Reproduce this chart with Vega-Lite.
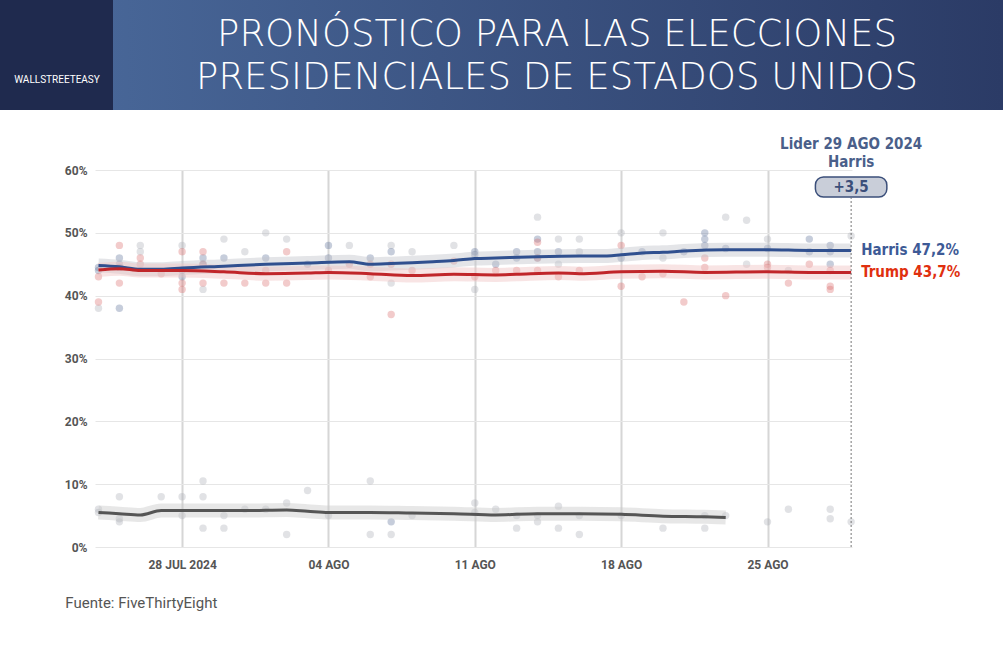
{
  "$schema": "https://vega.github.io/schema/vega-lite/v6.json",
  "background": "white",
  "padding": 0,
  "spacing": 26,
  "center": false,
  "config": {"view": {"stroke": null}, "font": "Roboto"},
  "datasets": {
    "lines": [
      {"d": "2024-07-24T00:00:00", "s": "Harris", "v": 44.8}, {"d": "2024-07-25T00:00:00", "s": "Harris", "v": 44.6},
      {"d": "2024-07-26T00:00:00", "s": "Harris", "v": 44.2}, {"d": "2024-07-27T00:00:00", "s": "Harris", "v": 44.2},
      {"d": "2024-07-28T00:00:00", "s": "Harris", "v": 44.4}, {"d": "2024-07-30T00:00:00", "s": "Harris", "v": 44.7},
      {"d": "2024-08-01T00:00:00", "s": "Harris", "v": 45.0}, {"d": "2024-08-03T00:00:00", "s": "Harris", "v": 45.2},
      {"d": "2024-08-05T00:00:00", "s": "Harris", "v": 45.4}, {"d": "2024-08-06T00:00:00", "s": "Harris", "v": 45.0},
      {"d": "2024-08-07T00:00:00", "s": "Harris", "v": 45.1}, {"d": "2024-08-09T00:00:00", "s": "Harris", "v": 45.4},
      {"d": "2024-08-10T00:00:00", "s": "Harris", "v": 45.6}, {"d": "2024-08-11T00:00:00", "s": "Harris", "v": 45.9},
      {"d": "2024-08-12T00:00:00", "s": "Harris", "v": 46.0}, {"d": "2024-08-14T00:00:00", "s": "Harris", "v": 46.2},
      {"d": "2024-08-16T00:00:00", "s": "Harris", "v": 46.3}, {"d": "2024-08-17T00:00:00", "s": "Harris", "v": 46.3},
      {"d": "2024-08-18T00:00:00", "s": "Harris", "v": 46.5}, {"d": "2024-08-19T00:00:00", "s": "Harris", "v": 46.8},
      {"d": "2024-08-20T00:00:00", "s": "Harris", "v": 46.9}, {"d": "2024-08-21T00:00:00", "s": "Harris", "v": 47.1},
      {"d": "2024-08-23T00:00:00", "s": "Harris", "v": 47.3}, {"d": "2024-08-25T00:00:00", "s": "Harris", "v": 47.3},
      {"d": "2024-08-27T00:00:00", "s": "Harris", "v": 47.2}, {"d": "2024-08-29T00:00:00", "s": "Harris", "v": 47.2},
      {"d": "2024-07-24T00:00:00", "s": "Trump", "v": 44.1}, {"d": "2024-07-25T00:00:00", "s": "Trump", "v": 44.3},
      {"d": "2024-07-26T00:00:00", "s": "Trump", "v": 44.0}, {"d": "2024-07-28T00:00:00", "s": "Trump", "v": 44.0},
      {"d": "2024-07-30T00:00:00", "s": "Trump", "v": 43.8}, {"d": "2024-08-01T00:00:00", "s": "Trump", "v": 43.5},
      {"d": "2024-08-03T00:00:00", "s": "Trump", "v": 43.6}, {"d": "2024-08-04T00:00:00", "s": "Trump", "v": 43.7},
      {"d": "2024-08-06T00:00:00", "s": "Trump", "v": 43.5}, {"d": "2024-08-08T00:00:00", "s": "Trump", "v": 43.2},
      {"d": "2024-08-10T00:00:00", "s": "Trump", "v": 43.4}, {"d": "2024-08-12T00:00:00", "s": "Trump", "v": 43.3},
      {"d": "2024-08-13T00:00:00", "s": "Trump", "v": 43.4}, {"d": "2024-08-15T00:00:00", "s": "Trump", "v": 43.6},
      {"d": "2024-08-16T00:00:00", "s": "Trump", "v": 43.5}, {"d": "2024-08-18T00:00:00", "s": "Trump", "v": 43.8},
      {"d": "2024-08-20T00:00:00", "s": "Trump", "v": 43.9}, {"d": "2024-08-22T00:00:00", "s": "Trump", "v": 43.7},
      {"d": "2024-08-25T00:00:00", "s": "Trump", "v": 43.8}, {"d": "2024-08-27T00:00:00", "s": "Trump", "v": 43.7},
      {"d": "2024-08-29T00:00:00", "s": "Trump", "v": 43.7},
      {"d": "2024-07-24T00:00:00", "s": "Kennedy", "v": 5.5}, {"d": "2024-07-25T00:00:00", "s": "Kennedy", "v": 5.3},
      {"d": "2024-07-26T00:00:00", "s": "Kennedy", "v": 5.1}, {"d": "2024-07-27T00:00:00", "s": "Kennedy", "v": 5.8},
      {"d": "2024-07-29T00:00:00", "s": "Kennedy", "v": 5.8}, {"d": "2024-07-31T00:00:00", "s": "Kennedy", "v": 5.8},
      {"d": "2024-08-02T00:00:00", "s": "Kennedy", "v": 5.9}, {"d": "2024-08-03T00:00:00", "s": "Kennedy", "v": 5.7},
      {"d": "2024-08-04T00:00:00", "s": "Kennedy", "v": 5.5}, {"d": "2024-08-06T00:00:00", "s": "Kennedy", "v": 5.5},
      {"d": "2024-08-08T00:00:00", "s": "Kennedy", "v": 5.4}, {"d": "2024-08-10T00:00:00", "s": "Kennedy", "v": 5.3},
      {"d": "2024-08-12T00:00:00", "s": "Kennedy", "v": 5.1}, {"d": "2024-08-14T00:00:00", "s": "Kennedy", "v": 5.3},
      {"d": "2024-08-16T00:00:00", "s": "Kennedy", "v": 5.3}, {"d": "2024-08-18T00:00:00", "s": "Kennedy", "v": 5.2},
      {"d": "2024-08-20T00:00:00", "s": "Kennedy", "v": 4.9}, {"d": "2024-08-22T00:00:00", "s": "Kennedy", "v": 4.8},
      {"d": "2024-08-23T00:00:00", "s": "Kennedy", "v": 4.7}
    ],
    "points": [
      {"d": "2024-07-24T00:00:00", "s": "Harris", "v": 44.5}, {"d": "2024-07-24T00:00:00", "s": "Harris", "v": 44}, {"d": "2024-07-24T00:00:00", "s": "Kennedy", "v": 38},
      {"d": "2024-07-24T00:00:00", "s": "Trump", "v": 43}, {"d": "2024-07-24T00:00:00", "s": "Trump", "v": 39},
      {"d": "2024-07-24T00:00:00", "s": "Kennedy", "v": 6}, {"d": "2024-07-24T00:00:00", "s": "Kennedy", "v": 5.5},
      {"d": "2024-07-25T00:00:00", "s": "Harris", "v": 46}, {"d": "2024-07-25T00:00:00", "s": "Harris", "v": 45}, {"d": "2024-07-25T00:00:00", "s": "Harris", "v": 44.5}, {"d": "2024-07-25T00:00:00", "s": "Harris", "v": 38},
      {"d": "2024-07-25T00:00:00", "s": "Trump", "v": 48}, {"d": "2024-07-25T00:00:00", "s": "Trump", "v": 44.5}, {"d": "2024-07-25T00:00:00", "s": "Trump", "v": 42},
      {"d": "2024-07-25T00:00:00", "s": "Kennedy", "v": 8}, {"d": "2024-07-25T00:00:00", "s": "Kennedy", "v": 4.5}, {"d": "2024-07-25T00:00:00", "s": "Kennedy", "v": 4},
      {"d": "2024-07-26T00:00:00", "s": "Kennedy", "v": 48}, {"d": "2024-07-26T00:00:00", "s": "Kennedy", "v": 47}, {"d": "2024-07-26T00:00:00", "s": "Trump", "v": 46}, {"d": "2024-07-26T00:00:00", "s": "Trump", "v": 45},
      {"d": "2024-07-27T00:00:00", "s": "Trump", "v": 43.5}, {"d": "2024-07-27T00:00:00", "s": "Kennedy", "v": 8},
      {"d": "2024-07-28T00:00:00", "s": "Kennedy", "v": 48}, {"d": "2024-07-28T00:00:00", "s": "Harris", "v": 44}, {"d": "2024-07-28T00:00:00", "s": "Harris", "v": 43},
      {"d": "2024-07-28T00:00:00", "s": "Trump", "v": 47}, {"d": "2024-07-28T00:00:00", "s": "Trump", "v": 42}, {"d": "2024-07-28T00:00:00", "s": "Trump", "v": 41},
      {"d": "2024-07-28T00:00:00", "s": "Kennedy", "v": 8}, {"d": "2024-07-28T00:00:00", "s": "Kennedy", "v": 5},
      {"d": "2024-07-29T00:00:00", "s": "Harris", "v": 46}, {"d": "2024-07-29T00:00:00", "s": "Harris", "v": 45}, {"d": "2024-07-29T00:00:00", "s": "Kennedy", "v": 41},
      {"d": "2024-07-29T00:00:00", "s": "Trump", "v": 47}, {"d": "2024-07-29T00:00:00", "s": "Trump", "v": 45}, {"d": "2024-07-29T00:00:00", "s": "Trump", "v": 42},
      {"d": "2024-07-29T00:00:00", "s": "Kennedy", "v": 10.5}, {"d": "2024-07-29T00:00:00", "s": "Kennedy", "v": 8}, {"d": "2024-07-29T00:00:00", "s": "Kennedy", "v": 3},
      {"d": "2024-07-30T00:00:00", "s": "Kennedy", "v": 49}, {"d": "2024-07-30T00:00:00", "s": "Harris", "v": 46}, {"d": "2024-07-30T00:00:00", "s": "Trump", "v": 42},
      {"d": "2024-07-30T00:00:00", "s": "Kennedy", "v": 5}, {"d": "2024-07-30T00:00:00", "s": "Kennedy", "v": 3},
      {"d": "2024-07-31T00:00:00", "s": "Kennedy", "v": 47}, {"d": "2024-07-31T00:00:00", "s": "Trump", "v": 42}, {"d": "2024-07-31T00:00:00", "s": "Kennedy", "v": 6},
      {"d": "2024-08-01T00:00:00", "s": "Kennedy", "v": 50}, {"d": "2024-08-01T00:00:00", "s": "Harris", "v": 46}, {"d": "2024-08-01T00:00:00", "s": "Trump", "v": 44}, {"d": "2024-08-01T00:00:00", "s": "Trump", "v": 42},
      {"d": "2024-08-01T00:00:00", "s": "Kennedy", "v": 6},
      {"d": "2024-08-02T00:00:00", "s": "Kennedy", "v": 49}, {"d": "2024-08-02T00:00:00", "s": "Trump", "v": 47}, {"d": "2024-08-02T00:00:00", "s": "Trump", "v": 42},
      {"d": "2024-08-02T00:00:00", "s": "Kennedy", "v": 7}, {"d": "2024-08-02T00:00:00", "s": "Kennedy", "v": 2},
      {"d": "2024-08-03T00:00:00", "s": "Harris", "v": 45}, {"d": "2024-08-03T00:00:00", "s": "Kennedy", "v": 9},
      {"d": "2024-08-04T00:00:00", "s": "Harris", "v": 48}, {"d": "2024-08-04T00:00:00", "s": "Harris", "v": 46}, {"d": "2024-08-04T00:00:00", "s": "Trump", "v": 44}, {"d": "2024-08-04T00:00:00", "s": "Kennedy", "v": 5},
      {"d": "2024-08-05T00:00:00", "s": "Kennedy", "v": 48}, {"d": "2024-08-05T00:00:00", "s": "Trump", "v": 45},
      {"d": "2024-08-06T00:00:00", "s": "Harris", "v": 46}, {"d": "2024-08-06T00:00:00", "s": "Trump", "v": 45}, {"d": "2024-08-06T00:00:00", "s": "Trump", "v": 43},
      {"d": "2024-08-06T00:00:00", "s": "Kennedy", "v": 10.5}, {"d": "2024-08-06T00:00:00", "s": "Kennedy", "v": 2},
      {"d": "2024-08-07T00:00:00", "s": "Kennedy", "v": 48}, {"d": "2024-08-07T00:00:00", "s": "Harris", "v": 47}, {"d": "2024-08-07T00:00:00", "s": "Kennedy", "v": 42},
      {"d": "2024-08-07T00:00:00", "s": "Trump", "v": 37}, {"d": "2024-08-07T00:00:00", "s": "Trump", "v": 45},
      {"d": "2024-08-07T00:00:00", "s": "Harris", "v": 4}, {"d": "2024-08-07T00:00:00", "s": "Kennedy", "v": 2},
      {"d": "2024-08-08T00:00:00", "s": "Kennedy", "v": 47}, {"d": "2024-08-08T00:00:00", "s": "Trump", "v": 44}, {"d": "2024-08-08T00:00:00", "s": "Kennedy", "v": 5},
      {"d": "2024-08-10T00:00:00", "s": "Kennedy", "v": 48}, {"d": "2024-08-10T00:00:00", "s": "Trump", "v": 45.5},
      {"d": "2024-08-11T00:00:00", "s": "Harris", "v": 47}, {"d": "2024-08-11T00:00:00", "s": "Harris", "v": 46.5}, {"d": "2024-08-11T00:00:00", "s": "Kennedy", "v": 41},
      {"d": "2024-08-11T00:00:00", "s": "Trump", "v": 43}, {"d": "2024-08-11T00:00:00", "s": "Kennedy", "v": 7}, {"d": "2024-08-11T00:00:00", "s": "Kennedy", "v": 5.5},
      {"d": "2024-08-12T00:00:00", "s": "Harris", "v": 45}, {"d": "2024-08-12T00:00:00", "s": "Trump", "v": 44}, {"d": "2024-08-12T00:00:00", "s": "Kennedy", "v": 6},
      {"d": "2024-08-13T00:00:00", "s": "Harris", "v": 47}, {"d": "2024-08-13T00:00:00", "s": "Harris", "v": 46}, {"d": "2024-08-13T00:00:00", "s": "Trump", "v": 44},
      {"d": "2024-08-13T00:00:00", "s": "Kennedy", "v": 3}, {"d": "2024-08-13T00:00:00", "s": "Kennedy", "v": 5},
      {"d": "2024-08-14T00:00:00", "s": "Kennedy", "v": 52.5}, {"d": "2024-08-14T00:00:00", "s": "Harris", "v": 49}, {"d": "2024-08-14T00:00:00", "s": "Harris", "v": 47}, {"d": "2024-08-14T00:00:00", "s": "Harris", "v": 46},
      {"d": "2024-08-14T00:00:00", "s": "Trump", "v": 48.5}, {"d": "2024-08-14T00:00:00", "s": "Trump", "v": 46}, {"d": "2024-08-14T00:00:00", "s": "Trump", "v": 44},
      {"d": "2024-08-14T00:00:00", "s": "Kennedy", "v": 5}, {"d": "2024-08-14T00:00:00", "s": "Kennedy", "v": 4},
      {"d": "2024-08-15T00:00:00", "s": "Kennedy", "v": 49}, {"d": "2024-08-15T00:00:00", "s": "Harris", "v": 47}, {"d": "2024-08-15T00:00:00", "s": "Kennedy", "v": 45},
      {"d": "2024-08-15T00:00:00", "s": "Trump", "v": 43}, {"d": "2024-08-15T00:00:00", "s": "Kennedy", "v": 6.5}, {"d": "2024-08-15T00:00:00", "s": "Kennedy", "v": 3},
      {"d": "2024-08-16T00:00:00", "s": "Kennedy", "v": 49}, {"d": "2024-08-16T00:00:00", "s": "Kennedy", "v": 47}, {"d": "2024-08-16T00:00:00", "s": "Trump", "v": 44},
      {"d": "2024-08-16T00:00:00", "s": "Kennedy", "v": 2}, {"d": "2024-08-16T00:00:00", "s": "Kennedy", "v": 5},
      {"d": "2024-08-18T00:00:00", "s": "Kennedy", "v": 50}, {"d": "2024-08-18T00:00:00", "s": "Harris", "v": 46}, {"d": "2024-08-18T00:00:00", "s": "Trump", "v": 48},
      {"d": "2024-08-18T00:00:00", "s": "Trump", "v": 41.5}, {"d": "2024-08-18T00:00:00", "s": "Kennedy", "v": 5},
      {"d": "2024-08-19T00:00:00", "s": "Harris", "v": 47}, {"d": "2024-08-19T00:00:00", "s": "Trump", "v": 43},
      {"d": "2024-08-20T00:00:00", "s": "Kennedy", "v": 50}, {"d": "2024-08-20T00:00:00", "s": "Kennedy", "v": 46}, {"d": "2024-08-20T00:00:00", "s": "Trump", "v": 43.5}, {"d": "2024-08-20T00:00:00", "s": "Kennedy", "v": 3},
      {"d": "2024-08-21T00:00:00", "s": "Trump", "v": 39}, {"d": "2024-08-21T00:00:00", "s": "Harris", "v": 47},
      {"d": "2024-08-22T00:00:00", "s": "Harris", "v": 50}, {"d": "2024-08-22T00:00:00", "s": "Harris", "v": 49}, {"d": "2024-08-22T00:00:00", "s": "Harris", "v": 48},
      {"d": "2024-08-22T00:00:00", "s": "Trump", "v": 46}, {"d": "2024-08-22T00:00:00", "s": "Trump", "v": 44.5},
      {"d": "2024-08-22T00:00:00", "s": "Kennedy", "v": 3}, {"d": "2024-08-22T00:00:00", "s": "Kennedy", "v": 5},
      {"d": "2024-08-23T00:00:00", "s": "Kennedy", "v": 52.5}, {"d": "2024-08-23T00:00:00", "s": "Harris", "v": 47.5}, {"d": "2024-08-23T00:00:00", "s": "Trump", "v": 40},
      {"d": "2024-08-23T00:00:00", "s": "Kennedy", "v": 5},
      {"d": "2024-08-24T00:00:00", "s": "Kennedy", "v": 52}, {"d": "2024-08-24T00:00:00", "s": "Kennedy", "v": 45},
      {"d": "2024-08-25T00:00:00", "s": "Kennedy", "v": 49}, {"d": "2024-08-25T00:00:00", "s": "Harris", "v": 47.5}, {"d": "2024-08-25T00:00:00", "s": "Trump", "v": 45}, {"d": "2024-08-25T00:00:00", "s": "Trump", "v": 44.5},
      {"d": "2024-08-25T00:00:00", "s": "Kennedy", "v": 4},
      {"d": "2024-08-26T00:00:00", "s": "Kennedy", "v": 44}, {"d": "2024-08-26T00:00:00", "s": "Trump", "v": 42}, {"d": "2024-08-26T00:00:00", "s": "Kennedy", "v": 6},
      {"d": "2024-08-27T00:00:00", "s": "Harris", "v": 49}, {"d": "2024-08-27T00:00:00", "s": "Harris", "v": 47}, {"d": "2024-08-27T00:00:00", "s": "Trump", "v": 45},
      {"d": "2024-08-28T00:00:00", "s": "Harris", "v": 48}, {"d": "2024-08-28T00:00:00", "s": "Harris", "v": 47}, {"d": "2024-08-28T00:00:00", "s": "Harris", "v": 45},
      {"d": "2024-08-28T00:00:00", "s": "Trump", "v": 44}, {"d": "2024-08-28T00:00:00", "s": "Trump", "v": 41}, {"d": "2024-08-28T00:00:00", "s": "Trump", "v": 41.5},
      {"d": "2024-08-28T00:00:00", "s": "Kennedy", "v": 6}, {"d": "2024-08-28T00:00:00", "s": "Kennedy", "v": 4.5},
      {"d": "2024-08-29T00:00:00", "s": "Kennedy", "v": 49.5}, {"d": "2024-08-29T00:00:00", "s": "Kennedy", "v": 4}
    ],
    "ends": [
      {"d": "2024-08-29T00:00:00", "s": "Harris", "v": 47.2, "label": "Harris 47,2%"},
      {"d": "2024-08-29T00:00:00", "s": "Trump", "v": 43.7, "label": "Trump 43,7%"}
    ],
    "lead": [
      {"d": "2024-08-29T00:00:00", "leader": "Harris", "margin": "+3,5", "fecha": "Lider 29 AGO 2024"}
    ]
  },
  "vconcat": [
    {
      "width": 908,
      "height": 110,
      "data": {"values": [{"t": "PRONÓSTICO PARA LAS ELECCIONES|PRESIDENCIALES DE ESTADOS UNIDOS", "logo": "WALLSTREETEASY", "a": 0, "b": 113, "e": 1003, "c": 557, "m": 57}]},
      "layer": [
        {
          "mark": {"type": "rect", "clip": false, "color": {"gradient": "linear", "x1": 0, "x2": 1, "y1": 0, "y2": 0, "stops": [{"offset": 0, "color": "#4b6b9d"}, {"offset": 1, "color": "#2b3b66"}]}},
          "encoding": {
            "x": {"field": "a", "type": "quantitative", "scale": {"domain": [95, 1003], "nice": false, "zero": false, "clamp": false}, "axis": null},
            "x2": {"field": "e"}
          }
        },
        {
          "mark": {"type": "rect", "clip": false, "color": "#1f2a4e"},
          "encoding": {
            "x": {"field": "a", "type": "quantitative"},
            "x2": {"field": "b"}
          }
        },
        {
          "mark": {"type": "text", "color": "white", "fontSize": 37, "font": "DejaVu Sans", "fontWeight": 200, "lineHeight": 43, "lineBreak": "|", "align": "center", "baseline": "middle", "dy": -20},
          "encoding": {
            "x": {"field": "c", "type": "quantitative"},
            "text": {"field": "t"}
          }
        },
        {
          "mark": {"type": "text", "color": "white", "fontSize": 10, "font": "Roboto", "align": "center", "dy": 25, "clip": false},
          "encoding": {
            "x": {"field": "m", "type": "quantitative"},
            "text": {"field": "logo"}
          }
        }
      ]
    },
    {
      "width": 757,
      "height": 377,
      "title": {"text": "Fuente: FiveThirtyEight", "orient": "bottom", "anchor": "start", "fontSize": 15, "fontWeight": "normal", "color": "#555", "font": "Roboto", "offset": 26, "dx": 65},
      "resolve": {"scale": {"color": "independent"}},
      "layer": [
        {
          "data": {"name": "points"},
          "mark": {"type": "circle", "size": 55, "opacity": 0.35},
          "encoding": {
            "x": {
              "field": "d", "type": "temporal",
              "scale": {"domain": [{"year": 2024, "month": 7, "date": 23, "hours": 20}, {"year": 2024, "month": 8, "date": 29, "hours": 1}]},
              "axis": {
                "title": null, "domain": false, "ticks": false, "grid": true, "gridColor": "#d6d6d6", "gridWidth": 2,
                "values": [{"year": 2024, "month": 7, "date": 28}, {"year": 2024, "month": 8, "date": 4}, {"year": 2024, "month": 8, "date": 11}, {"year": 2024, "month": 8, "date": 18}, {"year": 2024, "month": 8, "date": 25}],
                "labelExpr": "timeFormat(datum.value, '%d') + ' ' + (month(datum.value) == 6 ? 'JUL 2024' : 'AGO')",
                "labelColor": "#555", "labelFontSize": 12, "labelFontWeight": "bold", "labelPadding": 12
              }
            },
            "y": {
              "field": "v", "type": "quantitative",
              "scale": {"domain": [0, 60]},
              "axis": {
                "title": "\u00a0", "titlePadding": 53, "domain": false, "ticks": false, "values": [0, 10, 20, 30, 40, 50, 60],
                "labelExpr": "datum.value + '%'", "gridColor": "#e6e6e6",
                "labelColor": "#555", "labelFontSize": 12, "labelFontWeight": "bold", "labelPadding": 8
              }
            },
            "color": {"field": "s", "type": "nominal", "legend": null,
              "scale": {"domain": ["Harris", "Trump", "Kennedy"], "range": ["#5c6f98", "#d96a6a", "#a8adb5"]}}
          }
        },
        {
          "data": {"name": "lines"},
          "mark": {"type": "line", "strokeWidth": 14, "opacity": 0.45, "interpolate": "monotone"},
          "encoding": {
            "x": {"field": "d", "type": "temporal"},
            "y": {"field": "v", "type": "quantitative"},
            "color": {"field": "s", "type": "nominal", "legend": null,
              "scale": {"domain": ["Harris", "Trump", "Kennedy"], "range": ["#c4c6cb", "#f0c4c4", "#c9c9c9"]}}
          }
        },
        {
          "data": {"name": "lines"},
          "mark": {"type": "line", "strokeWidth": 3, "interpolate": "monotone"},
          "encoding": {
            "x": {"field": "d", "type": "temporal"},
            "y": {"field": "v", "type": "quantitative"},
            "color": {"field": "s", "type": "nominal", "legend": null,
              "scale": {"domain": ["Harris", "Trump", "Kennedy"], "range": ["#30508f", "#c0262a", "#555555"]}}
          }
        },
        {
          "data": {"name": "lead"},
          "mark": {"type": "rule", "strokeDash": [2, 2], "color": "#777", "strokeWidth": 1},
          "encoding": {
            "x": {"field": "d", "type": "temporal"},
            "y": {"datum": 0, "type": "quantitative"}, "y2": {"datum": 55.6}
          }
        },
        {
          "data": {"name": "lead"},
          "mark": {"type": "rect", "fill": "#c9ced9", "stroke": "#3b4f7a", "strokeWidth": 1.5, "cornerRadius": 8, "clip": false},
          "encoding": {
            "x": {"datum": {"year": 2024, "month": 8, "date": 27, "hours": 7}, "type": "temporal"},
            "x2": {"datum": {"year": 2024, "month": 8, "date": 30, "hours": 17}},
            "y": {"datum": 55.7, "type": "quantitative"}, "y2": {"datum": 58.9}
          }
        },
        {
          "data": {"name": "lead"},
          "mark": {"type": "text", "color": "#3b4f7a", "fontSize": 15, "fontWeight": "bold", "font": "DejaVu Sans Condensed", "baseline": "middle"},
          "encoding": {
            "x": {"field": "d", "type": "temporal"},
            "y": {"datum": 57.3, "type": "quantitative"}, "text": {"field": "margin"}
          }
        },
        {
          "data": {"name": "lead"},
          "mark": {"type": "text", "color": "#4a5f8a", "fontSize": 15, "fontWeight": "bold", "font": "DejaVu Sans Condensed", "baseline": "middle"},
          "encoding": {
            "x": {"field": "d", "type": "temporal"},
            "y": {"datum": 64.2, "type": "quantitative"}, "text": {"field": "fecha"}
          }
        },
        {
          "data": {"name": "lead"},
          "mark": {"type": "text", "color": "#4a5f8a", "fontSize": 15, "fontWeight": "bold", "font": "DejaVu Sans Condensed", "baseline": "middle"},
          "encoding": {
            "x": {"field": "d", "type": "temporal"},
            "y": {"datum": 61.2, "type": "quantitative"}, "text": {"field": "leader"}
          }
        },
        {
          "data": {"name": "ends"},
          "mark": {"type": "text", "align": "left", "dx": 10, "fontSize": 15, "fontWeight": "bold", "font": "DejaVu Sans Condensed", "baseline": "middle"},
          "encoding": {
            "x": {"field": "d", "type": "temporal"},
            "y": {"field": "v", "type": "quantitative"},
            "text": {"field": "label"},
            "color": {"field": "s", "type": "nominal", "legend": null,
              "scale": {"domain": ["Harris", "Trump"], "range": ["#3d5a96", "#e0300f"]}}
          }
        }
      ]
    }
  ]
}
